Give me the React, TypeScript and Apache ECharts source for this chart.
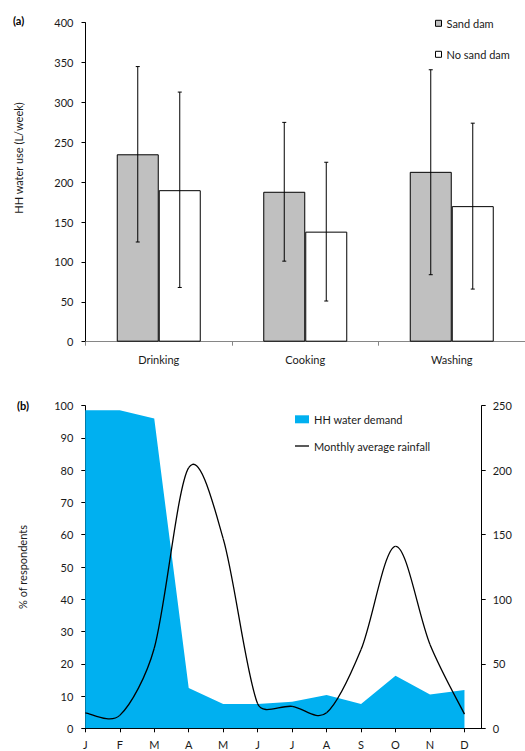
import React, { useEffect, useRef } from "react";
import * as echarts from "echarts";

const categories = ["Drinking", "Cooking", "Washing"];
const sandDam = [235, 188, 213];
const sandDamLow = [125, 101, 84];
const sandDamHigh = [345, 275, 341];
const noSandDam = [190, 138, 170];
const noSandDamLow = [68, 51, 66];
const noSandDamHigh = [313, 225, 274];

const months = ["J", "F", "M", "A", "M", "J", "J", "A", "S", "O", "N", "D"];
const waterDemand = [98.6, 98.6, 96, 12.5, 7.5, 7.5, 8.2, 10.3, 7.5, 16.3, 10.5, 11.9];
const rainfall = [12, 10, 62, 202, 147, 19, 17, 12, 61, 141, 65, 11];

const FONT = "Lato";
const BAR_W = 42;
const SMOOTH_CAP = 0.38;

function errorBars(offset: number) {
  return (params: any, api: any) => {
    const i = api.value(0);
    const lo = api.value(1);
    const hi = api.value(2);
    const x = api.coord([i, 0])[0] + offset;
    const yLo = api.coord([i, lo])[1];
    const yHi = api.coord([i, hi])[1];
    const st = { stroke: "#000", lineWidth: 1 };
    return {
      type: "group",
      children: [
        { type: "line", shape: { x1: x, y1: yLo, x2: x, y2: yHi }, style: st },
        { type: "line", shape: { x1: x - 2, y1: yLo, x2: x + 2, y2: yLo }, style: st },
        { type: "line", shape: { x1: x - 2, y1: yHi, x2: x + 2, y2: yHi }, style: st },
      ],
    };
  };
}

// Spreadsheet-style smoothed segment between point i and i+1
function smoothSegment(params: any, api: any) {
  const i = api.value(0);
  const n = rainfall.length;
  if (i >= n - 1) return null;
  const pt = (j: number) => {
    const k = Math.max(0, Math.min(n - 1, j));
    return api.coord([k, rainfall[k]]);
  };
  const dist = (a: number[], b: number[]) => Math.hypot(a[0] - b[0], a[1] - b[1]);
  const ctrl = (j: number, dir: 1 | -1) => {
    const p = pt(j);
    const prev = pt(j - 1);
    const next = pt(j + 1);
    const tx = next[0] - prev[0];
    const ty = next[1] - prev[1];
    const tl = Math.hypot(tx, ty) || 1;
    const seg = dir === 1 ? dist(p, next) : dist(p, prev);
    const len = Math.min(tl / 6, SMOOTH_CAP * seg);
    return [p[0] + (dir * tx * len) / tl, p[1] + (dir * ty * len) / tl];
  };
  const p1 = pt(i);
  const p2 = pt(i + 1);
  const c1 = ctrl(i, 1);
  const c2 = ctrl(i + 1, -1);
  return {
    type: "bezierCurve",
    shape: {
      x1: p1[0],
      y1: p1[1],
      x2: p2[0],
      y2: p2[1],
      cpx1: c1[0],
      cpy1: c1[1],
      cpx2: c2[0],
      cpy2: c2[1],
    },
    style: { stroke: "#000", lineWidth: 1.3, fill: null },
  };
}

export default function App() {
  const ref = useRef<HTMLDivElement>(null);
  useEffect(() => {
    if (!ref.current) return;
    const chart = echarts.init(ref.current, null, { renderer: "svg" });
    const labelStyle = { fontFamily: FONT, fontSize: 11, color: "#1a1a1a" };
    const legendText = { fontFamily: FONT, fontSize: 11, color: "#1a1a1a", lineHeight: 14 };
    const option: any = {
      animation: false,
      textStyle: { fontFamily: FONT },
      grid: [
        { left: 85.5, top: 22.7, width: 442, height: 319, containLabel: false },
        { left: 85.3, top: 405.7, width: 396.4, height: 322.6, containLabel: false },
      ],
      legend: [
        {
          data: [
            {
              name: "Sand dam",
              icon: "rect",
              itemStyle: { color: "#C0C0C0", borderColor: "#000", borderWidth: 1 },
            },
          ],
          left: 435,
          top: 16.3,
          padding: 0,
          itemWidth: 6,
          itemHeight: 6,
          textStyle: legendText,
        },
        {
          data: [
            {
              name: "No sand dam",
              icon: "rect",
              itemStyle: { color: "#FFFFFF", borderColor: "#000", borderWidth: 1 },
            },
          ],
          left: 435,
          top: 47.3,
          padding: 0,
          itemWidth: 6,
          itemHeight: 6,
          textStyle: legendText,
        },
        {
          data: [{ name: "HH water demand", icon: "rect", itemStyle: { color: "#00B0F0" } }],
          left: 295,
          top: 412.3,
          padding: 0,
          itemWidth: 14,
          itemHeight: 8,
          textStyle: legendText,
        },
        {
          data: [{ name: "Monthly average rainfall", icon: "rect", itemStyle: { color: "#000" } }],
          left: 295,
          top: 439,
          padding: 0,
          itemWidth: 14,
          itemHeight: 1.3,
          textStyle: legendText,
        },
      ],
      xAxis: [
        {
          type: "category",
          gridIndex: 0,
          data: categories,
          axisLine: { lineStyle: { color: "#868686", width: 1 } },
          axisTick: { show: true, length: 4, lineStyle: { color: "#868686" } },
          axisLabel: { ...labelStyle, margin: 12 },
          splitLine: { show: false },
        },
        {
          type: "value",
          gridIndex: 1,
          min: 0,
          max: 11.5,
          interval: 1,
          axisLine: { onZero: false, lineStyle: { color: "#000", width: 1 } },
          axisTick: { show: true, length: 4, lineStyle: { color: "#000" } },
          axisLabel: {
            ...labelStyle,
            margin: 11,
            showMaxLabel: false,
            formatter: (v: number) =>
              Number.isInteger(v) && v >= 0 && v < months.length ? months[v] : "",
          },
          splitLine: { show: false },
        },
      ],
      yAxis: [
        {
          type: "value",
          gridIndex: 0,
          min: 0,
          max: 400,
          interval: 50,
          axisLine: { show: true, lineStyle: { color: "#000", width: 1 } },
          axisTick: { show: true, length: 4, lineStyle: { color: "#000" } },
          axisLabel: { ...labelStyle, margin: 12 },
          splitLine: { show: false },
        },
        {
          type: "value",
          gridIndex: 1,
          min: 0,
          max: 100,
          interval: 10,
          position: "left",
          axisLine: { show: true, lineStyle: { color: "#000", width: 1 } },
          axisTick: { show: true, length: 4, lineStyle: { color: "#000" } },
          axisLabel: { ...labelStyle, margin: 12 },
          splitLine: { show: false },
        },
        {
          type: "value",
          gridIndex: 1,
          min: 0,
          max: 250,
          interval: 50,
          position: "right",
          axisLine: { show: true, lineStyle: { color: "#000", width: 1 } },
          axisTick: { show: true, length: 4, lineStyle: { color: "#000" } },
          axisLabel: { ...labelStyle, margin: 11 },
          splitLine: { show: false },
        },
      ],
      graphic: [
        {
          type: "text",
          left: 13,
          top: 15,
          style: { text: "(a)", fontFamily: FONT, fontSize: 11, fontWeight: "bold", fill: "#000" },
        },
        {
          type: "text",
          left: 17,
          top: 400,
          style: { text: "(b)", fontFamily: FONT, fontSize: 11, fontWeight: "bold", fill: "#000" },
        },
        {
          type: "text",
          x: 18,
          y: 158,
          rotation: Math.PI / 2,
          style: {
            text: "HH water use (L/week)",
            fontFamily: FONT,
            fontSize: 11,
            fill: "#1a1a1a",
            align: "center",
            verticalAlign: "middle",
          },
        },
        {
          type: "text",
          x: 22,
          y: 567,
          rotation: Math.PI / 2,
          style: {
            text: "% of respondents",
            fontFamily: FONT,
            fontSize: 11,
            fill: "#1a1a1a",
            align: "center",
            verticalAlign: "middle",
          },
        },
      ],
      series: [
        {
          name: "Sand dam",
          type: "bar",
          xAxisIndex: 0,
          yAxisIndex: 0,
          data: sandDam,
          barWidth: BAR_W,
          barGap: "0%",
          itemStyle: { color: "#C0C0C0", borderColor: "#000", borderWidth: 1 },
        },
        {
          name: "No sand dam",
          type: "bar",
          xAxisIndex: 0,
          yAxisIndex: 0,
          data: noSandDam,
          barWidth: BAR_W,
          barGap: "0%",
          itemStyle: { color: "#FFFFFF", borderColor: "#000", borderWidth: 1 },
        },
        {
          name: "errSand",
          type: "custom",
          xAxisIndex: 0,
          yAxisIndex: 0,
          z: 5,
          data: categories.map((_, i) => [i, sandDamLow[i], sandDamHigh[i]]),
          renderItem: errorBars(-BAR_W / 2),
        },
        {
          name: "errNoSand",
          type: "custom",
          xAxisIndex: 0,
          yAxisIndex: 0,
          z: 5,
          data: categories.map((_, i) => [i, noSandDamLow[i], noSandDamHigh[i]]),
          renderItem: errorBars(BAR_W / 2),
        },
        {
          name: "HH water demand",
          type: "line",
          xAxisIndex: 1,
          yAxisIndex: 1,
          data: waterDemand.map((v, i) => [i, v]),
          symbol: "none",
          lineStyle: { width: 0, color: "#00B0F0" },
          itemStyle: { color: "#00B0F0" },
          areaStyle: { color: "#00B0F0", opacity: 1 },
          z: 1,
        },
        {
          name: "Monthly average rainfall",
          type: "custom",
          xAxisIndex: 1,
          yAxisIndex: 2,
          data: rainfall.map((v, i) => [i, v]),
          itemStyle: { color: "#000" },
          renderItem: smoothSegment,
          z: 3,
        },
      ],
    };
    chart.setOption(option);
    return () => chart.dispose();
  }, []);
  return (
    <div
      ref={ref}
      style={{ position: "absolute", left: 0, top: 0, width: 525, height: 751, background: "#fff" }}
    />
  );
}
